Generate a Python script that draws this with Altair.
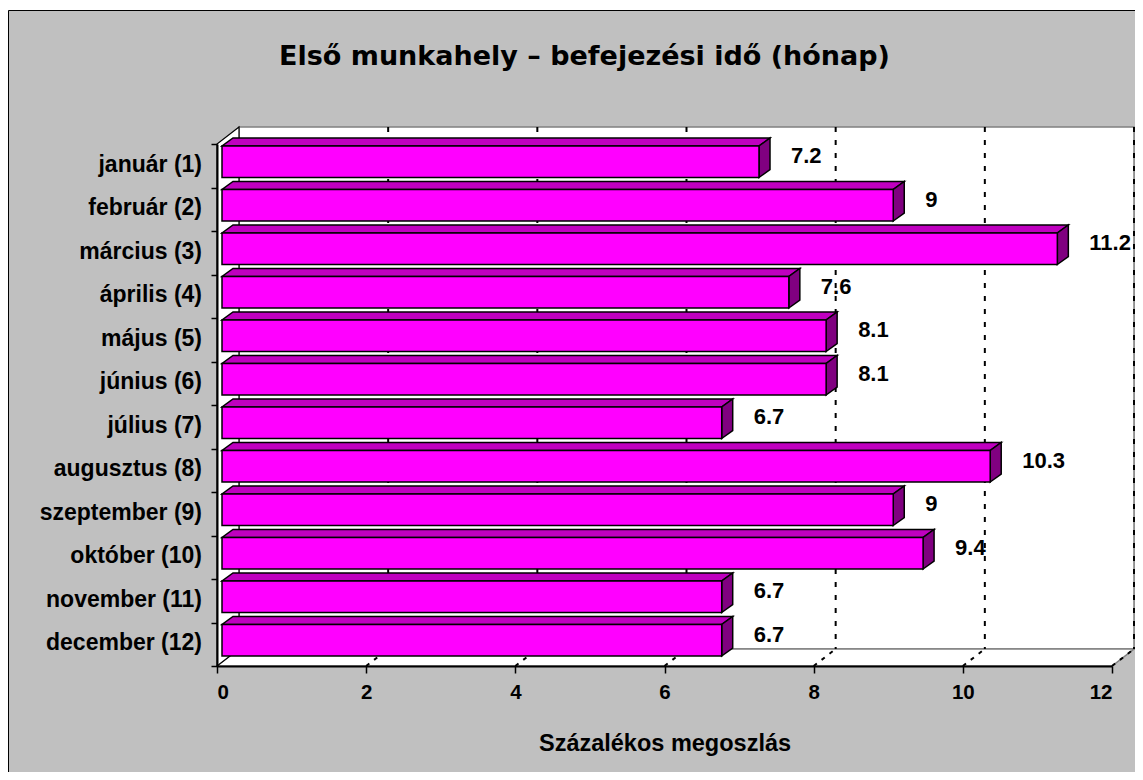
import altair as alt
import pandas as pd

# ---------------- data ----------------
months = ["január (1)", "február (2)", "március (3)", "április (4)", "május (5)",
          "június (6)", "július (7)", "augusztus (8)", "szeptember (9)",
          "október (10)", "november (11)", "december (12)"]
values = [7.2, 9, 11.2, 7.6, 8.1, 8.1, 6.7, 10.3, 9, 9.4, 6.7, 6.7]
value_labels = ["7.2", "9", "11.2", "7.6", "8.1", "8.1", "6.7", "10.3", "9", "9.4", "6.7", "6.7"]
x_ticks = [0, 2, 4, 6, 8, 10, 12]
chart_title = "Első munkahely – befejezési idő (hónap)"
x_title = "Százalékos megoszlás"

# ---------------- layout / style ----------------
W, H = 895, 522
PAD_L, PAD_T = 209, 136
TOTAL_W, TOTAL_H = 1127, 764
X_MAX = x_ticks[-1]
N = len(months)
px_x = W / X_MAX
px_y = H / N

WALL_DX, WALL_DY = 22 / px_x, 17 / px_y      # 3D depth of the walls
BAR_DX, BAR_DY = 11 / px_x, 8 / px_y         # 3D depth of the bars
BAR_X0 = 5 / px_x                            # bars sit inside the depth
BAR_TOP, BAR_H = 2 / px_y, 31.5 / px_y

FRONT = "#FF00FF"
TOP = "#BF00BF"
SIDE = "#800080"
GRAY_BG = "#C0C0C0"
WALL_LINE = "#808080"

xs = alt.Scale(domain=[0, X_MAX], nice=False, zero=False)
ys = alt.Scale(domain=[0, N], nice=False, zero=False, reverse=True)

x_axis = alt.Axis(
    values=x_ticks, format="d", title=x_title, grid=False,
    domainColor="black", domainWidth=2, tickColor="black", tickWidth=1.5, tickSize=7,
    labelFont="Liberation Sans", labelFontWeight="bold", labelFontSize=20.5,
    labelColor="black", labelPadding=9,
    titleFont="Liberation Sans", titleFontWeight="bold", titleFontSize=23.5,
    titleColor="black", titlePadding=29, zindex=1)
y_axis = alt.Axis(
    values=list(range(N + 1)), labels=False, title=None, grid=False,
    domainColor="black", domainWidth=2, tickColor="black", tickWidth=1.5, tickSize=6,
    zindex=1)


def X(f):
    return alt.X(f, scale=xs, axis=x_axis)


def Y(f):
    return alt.Y(f, scale=ys, axis=y_axis, stack=None)


# ---------------- derived tables ----------------
front_rows, top_rows, side_rows, lab_rows, mon_rows = [], [], [], [], []
for i, (m, v, lab) in enumerate(zip(months, values, value_labels)):
    t = i + BAR_TOP
    b = t + BAR_H
    x0 = BAR_X0
    x1 = v + BAR_X0
    front_rows.append(dict(month=m, x=x0, x2=x1, y=t, y2=b))
    top_rows += [dict(month=m, x=x0, y=t, y2=t),
                 dict(month=m, x=x0 + BAR_DX, y=t, y2=t - BAR_DY),
                 dict(month=m, x=x1, y=t, y2=t - BAR_DY),
                 dict(month=m, x=x1 + BAR_DX, y=t - BAR_DY, y2=t - BAR_DY)]
    side_rows += [dict(month=m, x=x1, y=b, y2=t),
                  dict(month=m, x=x1 + BAR_DX, y=b - BAR_DY, y2=t - BAR_DY)]
    lab_rows.append(dict(month=m, x=x1, y=i + 0.28, label=lab))
    mon_rows.append(dict(month=m, y=i + 0.5))

front_df = pd.DataFrame(front_rows)
top_df = pd.DataFrame(top_rows)
side_df = pd.DataFrame(side_rows)
lab_df = pd.DataFrame(lab_rows)
mon_df = pd.DataFrame(mon_rows)

back_df = pd.DataFrame([dict(x=0 + WALL_DX, x2=X_MAX + WALL_DX, y=0 - WALL_DY, y2=N - WALL_DY)])
floor_df = pd.DataFrame([dict(x=0, y=N, y2=N),
                         dict(x=WALL_DX, y=N, y2=N - WALL_DY),
                         dict(x=X_MAX, y=N, y2=N - WALL_DY),
                         dict(x=X_MAX + WALL_DX, y=N - WALL_DY, y2=N - WALL_DY)])
left_df = pd.DataFrame([dict(x=0, y=N, y2=0),
                        dict(x=WALL_DX, y=N - WALL_DY, y2=-WALL_DY)])
grid_v = pd.DataFrame([dict(x=g + WALL_DX, y=-WALL_DY, y2=N - WALL_DY) for g in x_ticks[1:]])
grid_d = pd.DataFrame([dict(x=g, x2=g + WALL_DX, y=N, y2=N - WALL_DY) for g in x_ticks[1:]])

# ---------------- layers ----------------
frame = alt.Chart(alt.Data(values=[{}])).mark_rect(
    fill=GRAY_BG, stroke="black", strokeWidth=1
).encode(
    x=alt.value(-PAD_L + 0.5), x2=alt.value(W + 60),
    y=alt.value(-PAD_T + 2.5), y2=alt.value(H + 200)
)

back = alt.Chart(back_df).mark_rect(fill="white", stroke=WALL_LINE, strokeWidth=1.5).encode(
    x=X("x:Q"), x2="x2:Q", y=Y("y:Q"), y2="y2:Q",
)

floor = alt.Chart(floor_df).mark_area(
    orient="vertical", fill="white", stroke=WALL_LINE, strokeWidth=1.5
).encode(x=X("x:Q"), y=Y("y:Q"), y2="y2:Q")

left = alt.Chart(left_df).mark_area(
    orient="vertical", fill="white", stroke="black", strokeWidth=1.2
).encode(x=X("x:Q"), y=Y("y:Q"), y2="y2:Q")

gridv = alt.Chart(grid_v).mark_rule(color="black", strokeWidth=2, strokeDash=[5, 8]).encode(
    x=X("x:Q"), y=Y("y:Q"), y2="y2:Q",
)
gridd = alt.Chart(grid_d).mark_rule(color="black", strokeWidth=2, strokeDash=[4, 6]).encode(
    x=X("x:Q"), x2="x2:Q", y=Y("y:Q"), y2="y2:Q",
)

tops = alt.Chart(top_df).mark_area(
    orient="vertical", fill=TOP, stroke="black", strokeWidth=1.5
).encode(x=X("x:Q"), y=Y("y:Q"), y2="y2:Q", detail="month:N")

sides = alt.Chart(side_df).mark_area(
    orient="vertical", fill=SIDE, stroke="black", strokeWidth=1.5
).encode(x=X("x:Q"), y=Y("y:Q"), y2="y2:Q", detail="month:N")

fronts = alt.Chart(front_df).mark_rect(fill=FRONT, stroke="black", strokeWidth=1.5).encode(
    x=X("x:Q"), x2="x2:Q", y=Y("y:Q"), y2="y2:Q",
)

vlabels = alt.Chart(lab_df).mark_text(
    align="left", baseline="middle", dx=32,
    font="Liberation Sans", fontWeight="bold", fontSize=22, color="black"
).encode(x=X("x:Q"), y=Y("y:Q"), text="label:N")

mlabels = alt.Chart(mon_df).mark_text(
    align="right", baseline="middle", dy=-1,
    font="Liberation Sans", fontWeight="bold", fontSize=23, color="black"
).encode(x=alt.value(-15), y=Y("y:Q"), text="month:N")

title_mark = alt.Chart(alt.Data(values=[{"t": chart_title}])).mark_text(
    align="center", baseline="alphabetic",
    font="DejaVu Sans", fontWeight="bold", fontSize=27, color="black"
).encode(
    x=alt.value(367.5), y=alt.value(-79), text="t:N"
)

chart = alt.layer(
    frame, back, floor, left, gridv, gridd, tops, sides, fronts, vlabels, mlabels, title_mark
).properties(
    width=W, height=H,
    autosize=alt.AutoSizeParams(type="none"),
    padding={"left": PAD_L, "top": PAD_T,
             "right": TOTAL_W - PAD_L - W, "bottom": TOTAL_H - PAD_T - H},
    background="white",
).configure_view(stroke=None)

chart.save("out.html", embed_options={"renderer": "svg", "actions": False})
